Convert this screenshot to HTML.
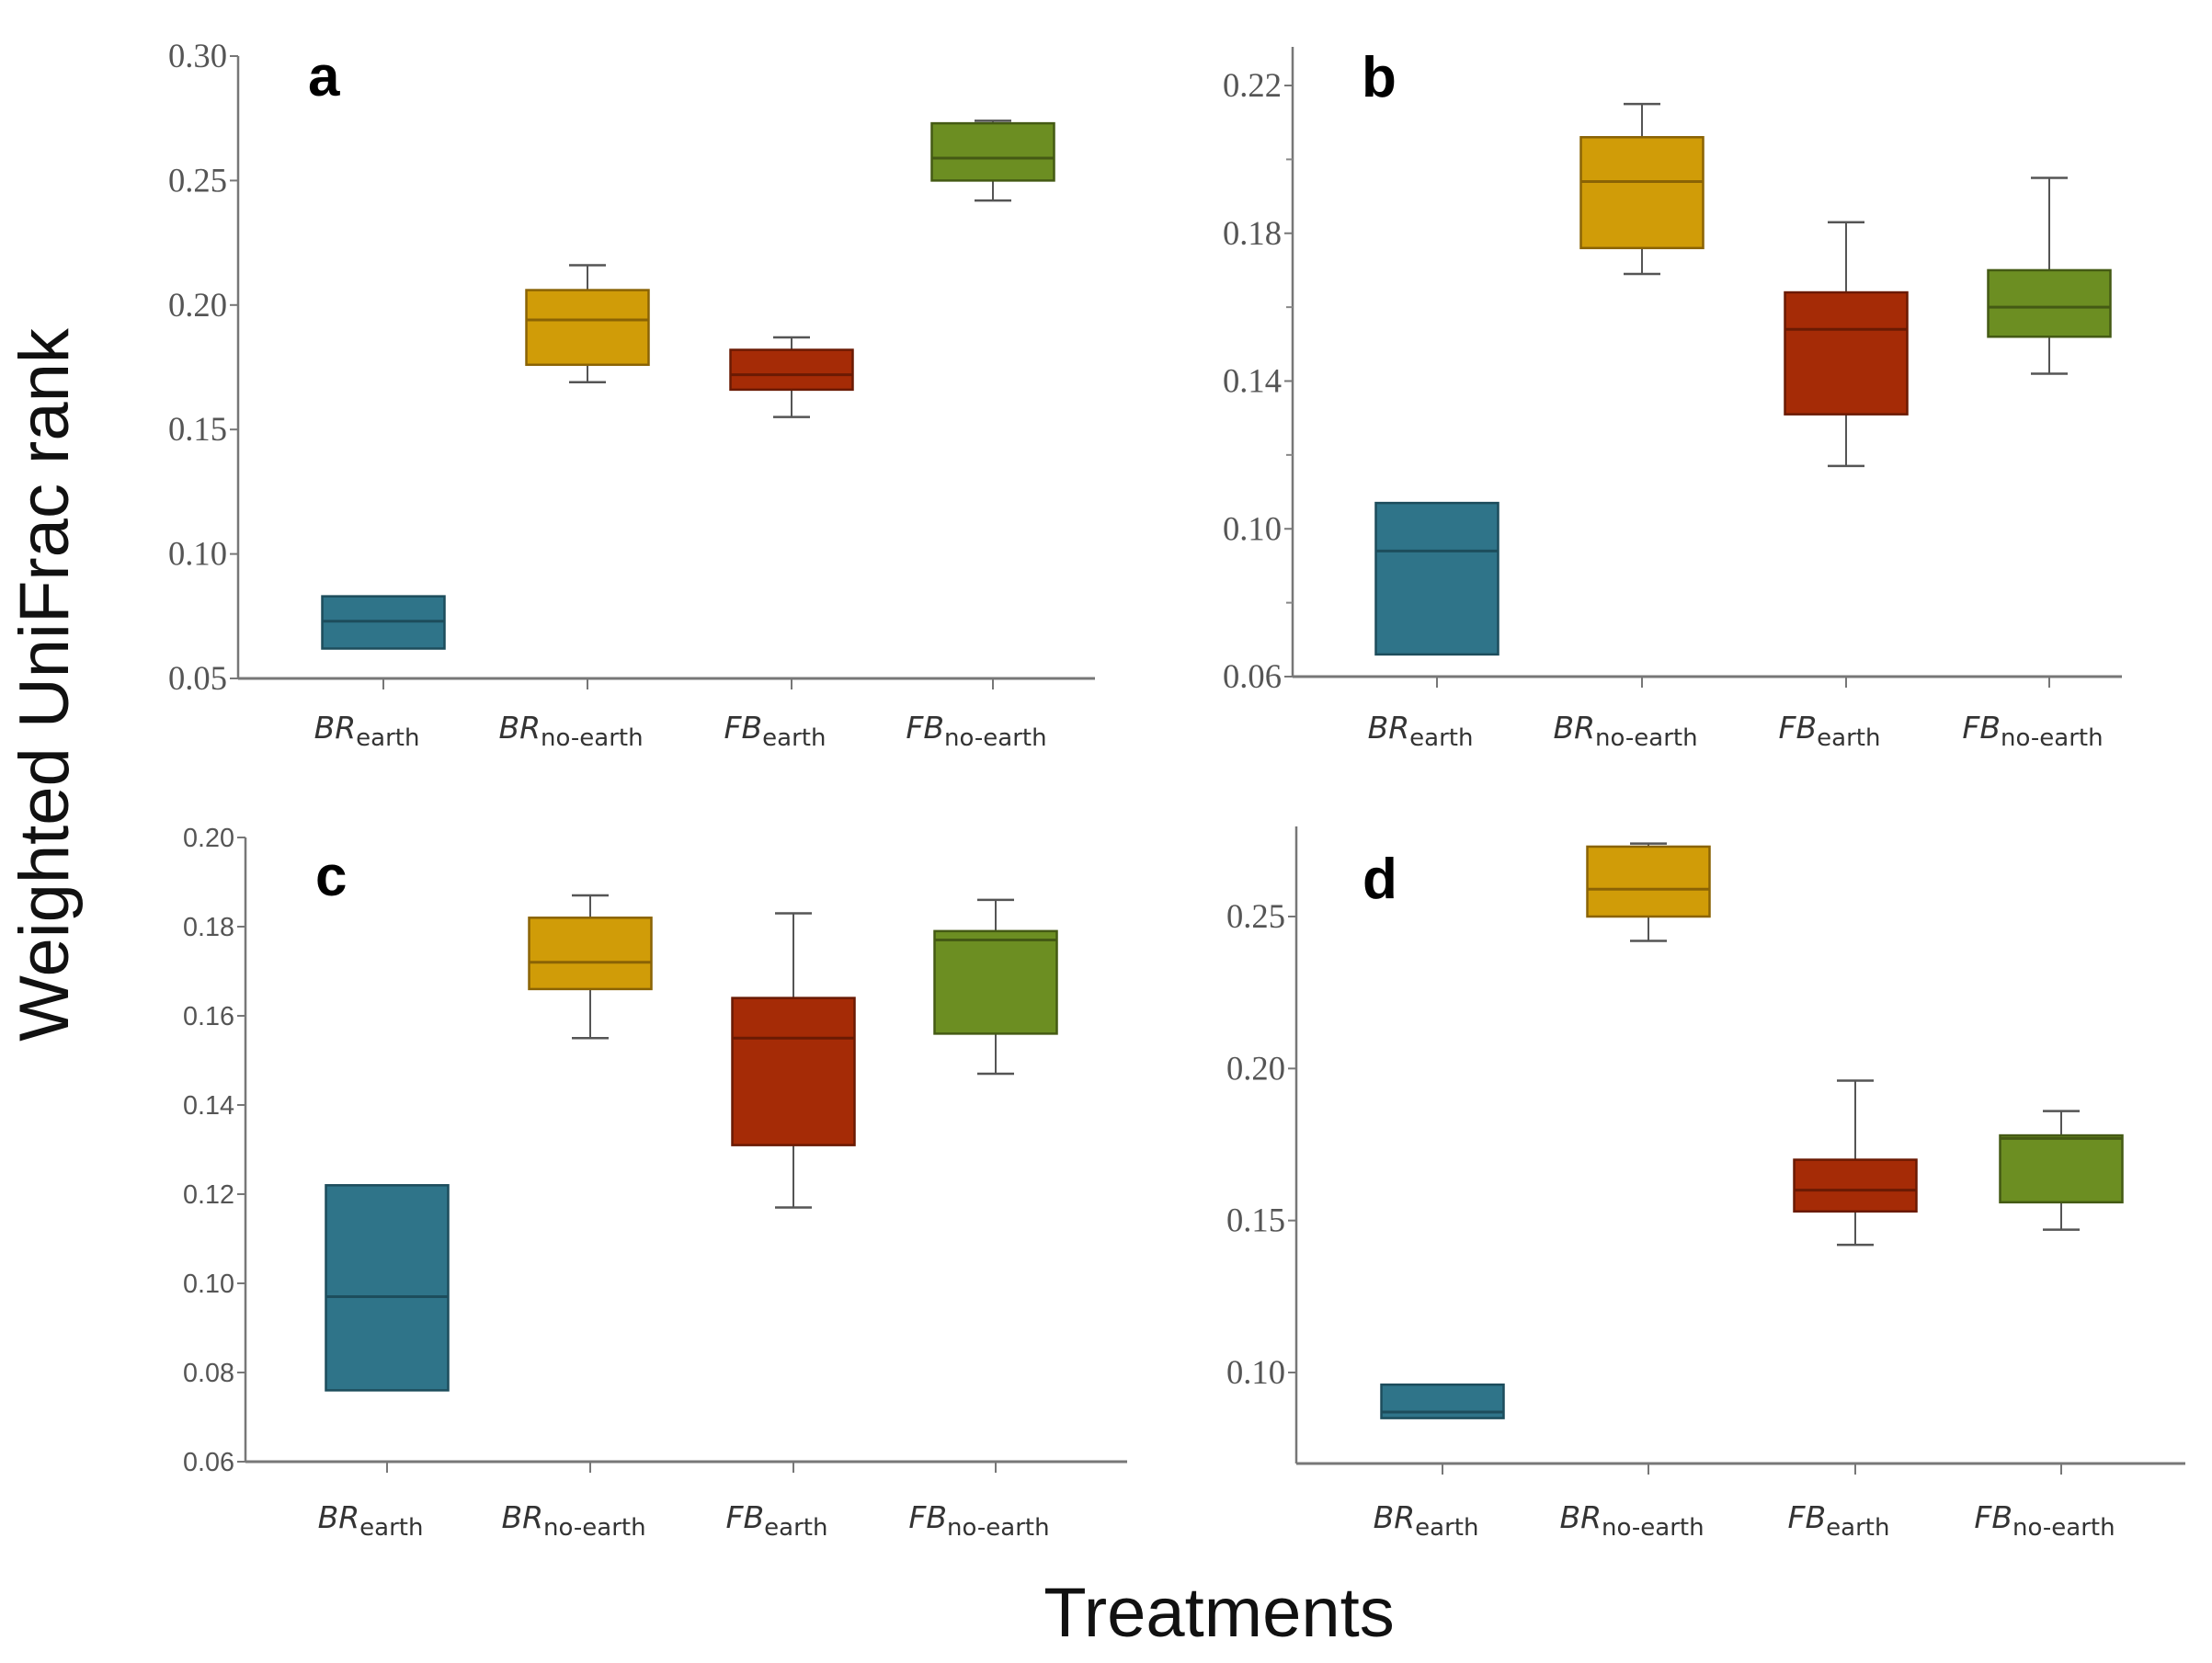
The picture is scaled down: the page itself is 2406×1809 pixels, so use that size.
<!DOCTYPE html>
<html><head><meta charset="utf-8"><style>
html,body{margin:0;padding:0;background:#fff;}
svg{display:block;}
</style></head><body>
<svg id="chart" width="2406" height="1809" viewBox="0 0 2406 1809" xmlns="http://www.w3.org/2000/svg">
<text x="0" y="0" transform="translate(74,745) rotate(-90)" text-anchor="middle" font-family="Liberation Sans, sans-serif" font-size="76" fill="#111">Weighted UniFrac rank</text>
<text x="1326" y="1780" text-anchor="middle" font-family="Liberation Sans, sans-serif" font-size="76" fill="#111">Treatments</text>
</svg>
<script>
const categories = ["BR|earth","BR|no-earth","FB|earth","FB|no-earth"];
const colors = ["#2f7489","#d09c08","#a52b06","#6c8e22"];
const strokes = ["#1d4d5c","#8a6305","#6a1a03","#445a14"];
// [min, q1, median, q3, max] per category (null whisker = none)
const panelA = [[null,0.062,0.073,0.083,null],[0.169,0.176,0.194,0.206,0.216],[0.155,0.166,0.172,0.182,0.187],[0.242,0.250,0.259,0.273,0.274]];
const panelB = [[null,0.066,0.094,0.107,null],[0.169,0.176,0.194,0.206,0.215],[0.117,0.131,0.154,0.164,0.183],[0.142,0.152,0.160,0.170,0.195]];
const panelC = [[null,0.076,0.097,0.122,null],[0.155,0.166,0.172,0.182,0.187],[0.117,0.131,0.155,0.164,0.183],[0.147,0.156,0.177,0.179,0.186]];
const panelD = [[null,0.085,0.087,0.096,null],[0.242,0.250,0.259,0.273,0.274],[0.142,0.153,0.160,0.170,0.196],[0.147,0.156,0.177,0.178,0.186]];
const ticksA = [0.05,0.10,0.15,0.20,0.25,0.30];
const ticksB = [0.06,0.10,0.14,0.18,0.22];
const minorB = [0.08,0.12,0.16,0.20];
const ticksC = [0.06,0.08,0.10,0.12,0.14,0.16,0.18,0.20];
const ticksD = [0.10,0.15,0.20,0.25];
const panels = [
 {id:"a",data:panelA,ticks:ticksA,minor:[],dec:2,ymin:0.05,ymax:0.30,x0:259,x1:1191,yb:738,yt:61,ytop:61,serif:true,xs:[417,639,861,1080],lab:803},
 {id:"b",data:panelB,ticks:ticksB,minor:minorB,dec:2,ymin:0.06,ymax:0.22,x0:1406,x1:2308,yb:736,yt:93,ytop:51,serif:true,xs:[1563,1786,2008,2229],lab:803},
 {id:"c",data:panelC,ticks:ticksC,minor:[],dec:2,ymin:0.06,ymax:0.20,x0:267,x1:1226,yb:1590,yt:911,ytop:911,serif:false,xs:[421,642,863,1083],lab:1662},
 {id:"d",data:panelD,ticks:ticksD,minor:[],dec:2,ymin:0.10,ymax:0.25,x0:1410,x1:2377,yb:1493,yt:997,ytop:899,serif:true,xs:[1569,1793,2018,2242],lab:1662,ybot:1592}
];
const svg=document.getElementById('chart');
const NS="http://www.w3.org/2000/svg";
function mk(tag,attrs,parent){const e=document.createElementNS(NS,tag);for(const k in attrs)e.setAttribute(k,attrs[k]);(parent||svg).appendChild(e);return e;}
panels.forEach(p=>{
  const g=mk('g',{});
  
  
  const y=v=>p.yb+(v-p.ymin)/(p.ymax-p.ymin)*(p.yt-p.yb);
  const axisBottom=p.ybot||p.yb;
  const ya=mk('line',{x1:p.x0,y1:p.ytop,x2:p.x0,y2:axisBottom,stroke:"#777","stroke-width":2.5},g);
  
  
  const xa=mk('line',{x1:p.x0,y1:axisBottom,x2:p.x1,y2:axisBottom,stroke:"#777","stroke-width":3},g);
  
  
  p.ticks.forEach(t=>{
    const ty=y(t);
    mk('line',{x1:p.x0-9,y1:ty,x2:p.x0,y2:ty,stroke:"#777","stroke-width":2},g);
    const tx=mk('text',{x:p.x0-12,y:ty+(p.serif?12:10),"text-anchor":"end","font-family":p.serif?"Liberation Serif, serif":"Liberation Sans, sans-serif","font-size":p.serif?37:29,fill:"#555",transform:"",textLength:p.serif?64:56,lengthAdjust:"spacingAndGlyphs"},g);
    tx.textContent=t.toFixed(p.dec);
    
    
  });
  p.minor.forEach(t=>{const ty=y(t);mk('line',{x1:p.x0-7,y1:ty,x2:p.x0,y2:ty,stroke:"#888","stroke-width":2},g);});
  const lt=mk('text',{x:p.x0+(p.id==='b'?75:p.id==='d'?72:76),y:0,"font-family":"Liberation Sans, sans-serif","font-weight":"bold","font-size":62,fill:"#000"},g);
  lt.setAttribute('y', p.id==='a'?104:p.id==='b'?105:p.id==='c'?974:977);
  lt.textContent=p.id;
  
  
  categories.forEach((c,i)=>{
    const cx=p.xs[i], d=p.data[i], bw=133;
    mk('line',{x1:cx,y1:axisBottom,x2:cx,y2:axisBottom+12,stroke:"#777","stroke-width":2},g);
    const bg=mk('g',{},g);
    
    
    if(d[4]!==null){mk('line',{x1:cx,y1:y(d[4]),x2:cx,y2:y(d[3]),stroke:"#555","stroke-width":2},bg);mk('line',{x1:cx-20,y1:y(d[4]),x2:cx+20,y2:y(d[4]),stroke:"#555","stroke-width":2.5},bg);}
    if(d[0]!==null){mk('line',{x1:cx,y1:y(d[1]),x2:cx,y2:y(d[0]),stroke:"#555","stroke-width":2},bg);mk('line',{x1:cx-20,y1:y(d[0]),x2:cx+20,y2:y(d[0]),stroke:"#555","stroke-width":2.5},bg);}
    mk('rect',{x:cx-bw/2,y:y(d[3]),width:bw,height:y(d[1])-y(d[3]),fill:colors[i],stroke:strokes[i],"stroke-width":2.5},bg);
    mk('line',{x1:cx-bw/2,y1:y(d[2]),x2:cx+bw/2,y2:y(d[2]),stroke:strokes[i],"stroke-width":3},bg);
    const parts=c.split('|');
    const t=mk('text',{x:cx-18,y:p.lab,"text-anchor":"middle","font-family":"DejaVu Sans, Liberation Sans, sans-serif","font-size":33,fill:"#333"},g);
    
    
    const s1=mk('tspan',{"font-style":"italic"},t);s1.textContent=parts[0];
    const s2=mk('tspan',{"font-size":26,dy:8},t);s2.textContent=parts[1];
  });
});
</script>
</body></html>
